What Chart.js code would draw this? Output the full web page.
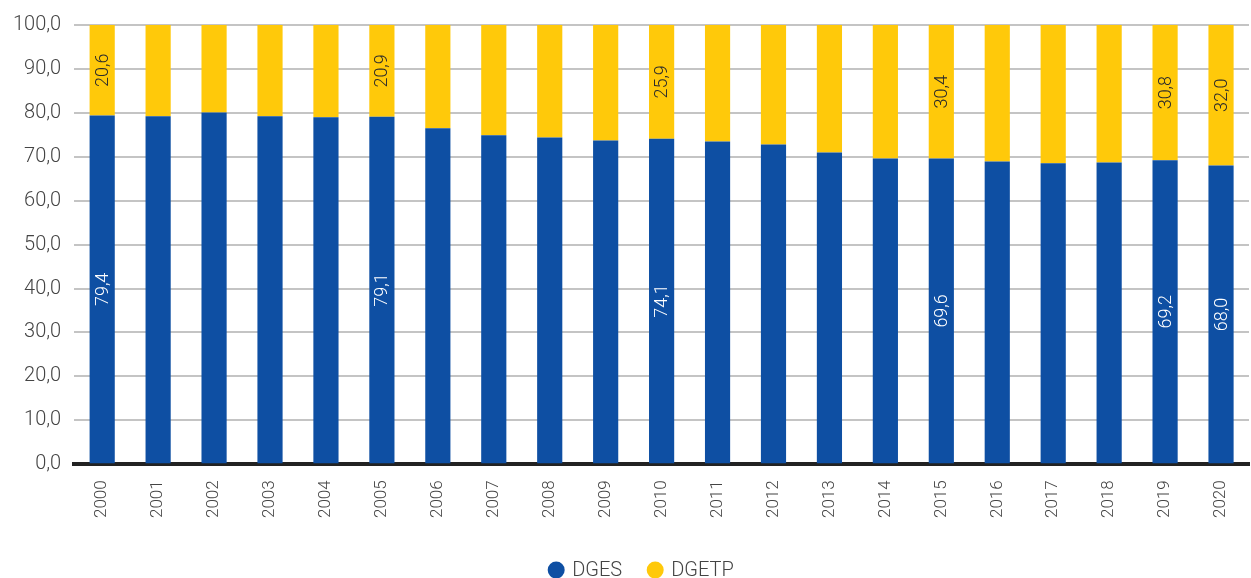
<!DOCTYPE html>
<html>
<head>
<meta charset="utf-8">
<script src="https://cdn.jsdelivr.net/npm/chart.js@4"></script>
<style>
  body { margin: 0; background: #fff; }
  #wrap { width: 1251px; height: 578px; position: relative; }
</style>
</head>
<body>
<div id="wrap"><canvas id="barChart"></canvas></div>
<script>
const years = ["2000","2001","2002","2003","2004","2005","2006","2007","2008","2009","2010",
  "2011","2012","2013","2014","2015","2016","2017","2018","2019","2020"];
const dges = [79.4, 79.2, 80.1, 79.2, 79.0, 79.1, 76.5, 74.9, 74.4, 73.7, 74.1,
  73.5, 72.8, 71.0, 69.6, 69.6, 68.9, 68.5, 68.7, 69.2, 68.0];
const dgetp = [20.6, 20.8, 19.9, 20.8, 21.0, 20.9, 23.5, 25.1, 25.6, 26.3, 25.9,
  26.5, 27.2, 29.0, 30.4, 30.4, 31.1, 31.5, 31.3, 30.8, 32.0];
const labelledYears = ["2000", "2005", "2010", "2015", "2019", "2020"];

const fmt = (v) => v.toFixed(1).replace(".", ",");

// writes the value vertically in the middle of each labelled segment
const segmentLabels = {
  id: "segmentLabels",
  afterDatasetsDraw(chart) {
    const ctx = chart.ctx;
    chart.data.datasets.forEach((ds, di) => {
      const meta = chart.getDatasetMeta(di);
      meta.data.forEach((bar, i) => {
        if (!labelledYears.includes(years[i])) return;
        const top = Math.min(bar.y, bar.base);
        const bottom = Math.max(bar.y, bar.base);
        ctx.save();
        ctx.translate(bar.x, (top + bottom) / 2);
        ctx.rotate(-Math.PI / 2);
        ctx.font = "300 18px Roboto";
        ctx.fillStyle = di === 0 ? "#ffffff" : "#2b2b2b";
        ctx.textAlign = "center";
        ctx.textBaseline = "middle";
        ctx.fillText(fmt(ds.data[i]), 0, 1);
        ctx.restore();
      });
    });
  },
};

// bottom legend with round markers
const dotLegend = {
  id: "dotLegend",
  afterDraw(chart) {
    const ctx = chart.ctx;
    ctx.save();
    ctx.font = "300 20px Roboto";
    ctx.textBaseline = "middle";
    const items = chart.data.datasets.map((ds) => ({
      text: ds.label,
      color: ds.backgroundColor,
      w: 8 * 2 + 8 + ctx.measureText(ds.label).width,
    }));
    const gap = 25;
    const total = items.reduce((s, it) => s + it.w, 0) + gap * (items.length - 1);
    let x = 641 - total / 2;
    const y = 570;
    items.forEach((it) => {
      ctx.fillStyle = it.color;
      ctx.beginPath();
      ctx.arc(x + 8, y, 8.5, 0, Math.PI * 2);
      ctx.fill();
      ctx.fillStyle = "#444";
      ctx.fillText(it.text, x + 24, y + 1);
      x += it.w + gap;
    });
    ctx.restore();
  },
};

const barCanvas = document.getElementById("barChart").getContext("2d");
new Chart(barCanvas, {
  type: "bar",
  data: {
    labels: years,
    datasets: [
      { label: "DGES", data: dges, backgroundColor: "#0E4FA3", barPercentage: 0.45, categoryPercentage: 1 },
      { label: "DGETP", data: dgetp, backgroundColor: "#FFC90A", barPercentage: 0.45, categoryPercentage: 1 },
    ],
  },
  options: {
    responsive: true,
    maintainAspectRatio: false,
    animation: false,
    layout: { padding: { top: 12, right: 2, left: 0, bottom: 52 } },
    scales: {
      x: {
        stacked: true,
        grid: { display: false },
        border: { color: "#222", width: 4 },
        ticks: {
          minRotation: 90,
          maxRotation: 90,
          padding: 8,
          color: "#444",
          font: { family: "Roboto", weight: "300", size: 17 },
        },
      },
      y: {
        stacked: true,
        min: 0,
        max: 100,
        border: { display: false },
        grid: { color: "#c4c4c4", lineWidth: 2, drawTicks: false },
        ticks: {
          stepSize: 10,
          padding: 13,
          color: "#444",
          font: { family: "Roboto", weight: "300", size: 20 },
          callback: (v) => fmt(v),
        },
      },
    },
    plugins: {
      legend: { display: false },
      tooltip: { enabled: false },
    },
  },
  plugins: [segmentLabels, dotLegend],
});
</script>
</body>
</html>
